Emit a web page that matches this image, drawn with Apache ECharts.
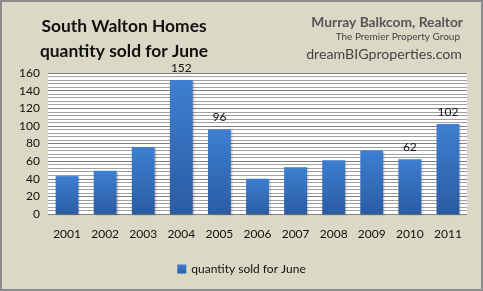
<!DOCTYPE html>
<html><head><meta charset="utf-8">
<script src="https://cdn.jsdelivr.net/npm/echarts@6/dist/echarts.min.js"></script>
<style>html,body{margin:0;padding:0;background:#dcd8c6;}#c{width:483px;height:291px;}</style>
</head><body><div id="c"></div>
<script>
const years = ['2001','2002','2003','2004','2005','2006','2007','2008','2009','2010','2011'];
const sold = [43, 49, 76, 152, 96, 40, 53, 61, 72, 62, 102];
const labelledYears = ['2004','2005','2010','2011'];
const yTicks = [0,20,40,60,80,100,120,140,160];

const chart = echarts.init(document.getElementById('c'), null, {renderer:'canvas'});
const font = 'Lato, "Open Sans", sans-serif';
chart.setOption({
  backgroundColor: '#dcd8c6',
  animation: false,
  graphic: [{type: 'rect', silent: true, z: 100,
    shape: {x: 1, y: 1, width: 481, height: 289},
    style: {fill: 'none', stroke: '#8c8c8c', lineWidth: 2}}],
  title: [
    {text: 'South Walton Homes\nquantity sold for June', left: 119, top: 9, textAlign: 'center',
     textStyle: {fontFamily: font, fontWeight: 'bold', fontSize: 17.4, lineHeight: 25, color: '#111'}},
    {text: 'Murray Balkcom, Realtor', right: 15, top: 11,
     textStyle: {fontFamily: font, fontWeight: 'bold', fontSize: 13.8, color: '#555'}},
    {text: 'The Premier Property Group', right: 18, top: 27,
     textStyle: {fontFamily: font, fontWeight: 'normal', fontSize: 10, color: '#444'}},
    {text: 'dreamBIGproperties.com', right: 16, top: 42,
     textStyle: {fontFamily: font, fontWeight: 'normal', fontSize: 14.2, color: '#444'}}
  ],
  grid: {left: 48, right: 16, top: 73, bottom: 77, show: true, backgroundColor: '#ffffff', borderWidth: 0, containLabel: false},
  legend: {bottom: 11, left: 'center', itemWidth: 9, itemHeight: 9, itemGap: 4,
    icon: 'rect', textStyle: {fontFamily: font, fontSize: 12, color: '#111'}},
  xAxis: {type: 'category', data: years,
    axisLine: {show: false}, axisTick: {show: false},
    axisLabel: {fontFamily: font, fontSize: 12, color: '#111', margin: 14}},
  yAxis: {type: 'value', min: 0, max: 160, interval: 20,
    axisLine: {show: false}, axisTick: {show: false},
    axisLabel: {fontFamily: font, fontSize: 12, color: '#111', margin: 8,
      formatter: v => yTicks.includes(v) ? String(v) : ''},
    splitLine: {show: true, lineStyle: {color: '#7f7f7f', width: 1}},
    minorTick: {show: false, splitNumber: 5},
    minorSplitLine: {show: true, lineStyle: {color: '#a0a0a0', width: 1}}},
  series: [{
    name: 'quantity sold for June', type: 'bar', data: sold, barWidth: '60%',
    itemStyle: {color: new echarts.graphic.LinearGradient(0,0,0,1,[
      {offset:0, color:'#3e7fd1'},{offset:1, color:'#2a5ca4'}]),
      shadowColor: 'rgba(0,0,0,0.25)', shadowBlur: 2, shadowOffsetX: 1, shadowOffsetY: 1},
    label: {show: true, position: 'top', distance: 6, fontFamily: font, fontSize: 12, color: '#111',
      formatter: p => labelledYears.includes(p.name) ? String(p.value) : ''}
  }]
});
</script></body></html>
